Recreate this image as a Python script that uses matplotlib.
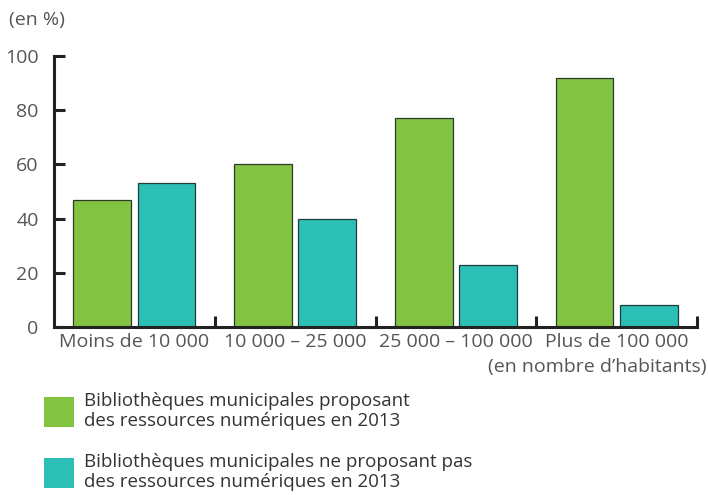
import matplotlib.pyplot as plt
from matplotlib.patches import Rectangle

categories = ['Moins de 10 000', '10 000 – 25 000', '25 000 – 100 000', 'Plus de 100 000']
avec = [47, 60, 77, 92]
sans = [53, 40, 23, 8]
yticks = [0, 20, 40, 60, 80, 100]
label_avec = 'Bibliothèques municipales proposant\ndes ressources numériques en 2013'
label_sans = 'Bibliothèques municipales ne proposant pas\ndes ressources numériques en 2013'

green = '#82c341'
teal = '#2bbfb5'
grey = '#555555'

plt.rcParams['font.family'] = ['Open Sans', 'DejaVu Sans']

fig = plt.figure(figsize=(7.08, 4.95), dpi=100)
ax = fig.add_axes([54 / 708, 1 - 327 / 495, (697 - 54) / 708, (327 - 56) / 495])

x = range(len(categories))
ax.bar([i - 0.2 for i in x], avec, width=0.36, color=green, edgecolor='#2e3b2a', linewidth=0.9)
ax.bar([i + 0.2 for i in x], sans, width=0.36, color=teal, edgecolor='#1f3d3a', linewidth=0.9)

ax.set_xlim(-0.5, len(categories) - 0.5)
ax.set_ylim(0, 100)
for s in ['top', 'right']:
    ax.spines[s].set_visible(False)
for s in ['left', 'bottom']:
    ax.spines[s].set_linewidth(2.2)
    ax.spines[s].set_color('#222222')

ax.set_yticks(yticks)
ax.tick_params(axis='y', direction='in', length=8, width=2.2, color='#222222',
               labelsize=14, labelcolor=grey, pad=11)

ax.set_xticks([i + 0.5 for i in x])
ax.set_xticklabels([])
ax.set_xticks(list(x), minor=True)
ax.set_xticklabels(categories, minor=True)
ax.tick_params(axis='x', which='major', direction='in', length=8, width=2.2, color='#222222')
ax.tick_params(axis='x', which='minor', length=0, labelsize=14, labelcolor=grey, pad=4)

fig.text(9 / 708, 1 - 20 / 495, '(en %)', fontsize=14, color=grey, va='center', ha='left')
fig.text(706 / 708, 1 - 367 / 495, '(en nombre d’habitants)', fontsize=14, color=grey,
         va='center', ha='right')

for y0, color, label in [(397, green, label_avec), (458, teal, label_sans)]:
    fig.patches.append(Rectangle((44 / 708, 1 - (y0 + 30) / 495), 30 / 708, 30 / 495,
                                 transform=fig.transFigure, facecolor=color, edgecolor='none'))
    fig.text(84 / 708, 1 - (y0 + 14) / 495, label, fontsize=13.5, color='#333333',
             va='center', ha='left', linespacing=1.1)

fig.savefig('out.png', dpi=100)
